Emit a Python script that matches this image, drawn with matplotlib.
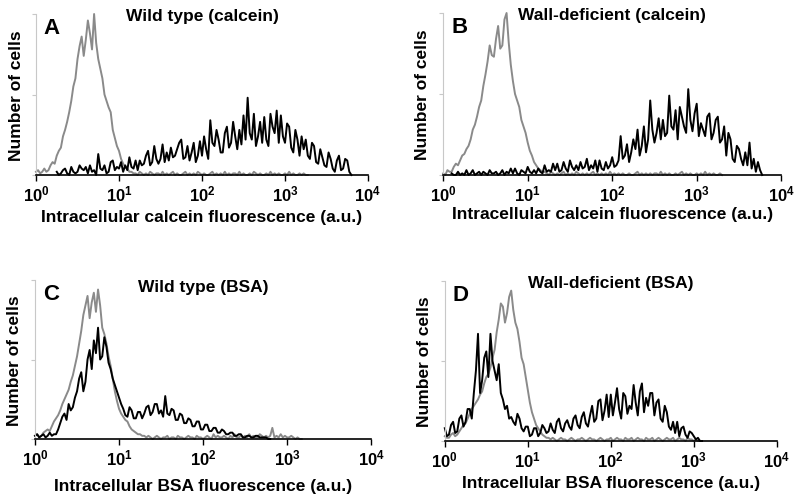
import numpy as np
import matplotlib
matplotlib.use('Agg')
import matplotlib.pyplot as plt
from matplotlib.ticker import NullLocator

plt.rcParams['font.family'] = 'Liberation Sans'
plt.rcParams['font.weight'] = 'bold'
plt.rcParams['mathtext.fontset'] = 'custom'
plt.rcParams['mathtext.rm'] = 'Liberation Sans:bold'
plt.rcParams['mathtext.bf'] = 'Liberation Sans:bold'

## Histogram data: counts per channel, one channel every 0.025 decade (log10 start given)
step = 0.025

# A: wild type, calcein
a_gray_start = 0.0
a_gray = [2, 3, 1, 2, 4, 2, 3, 6, 8, 7, 12, 15, 17, 24, 28, 33, 39, 46, 55, 60,
          72, 80, 86, 74, 84, 96, 88, 78, 100, 82, 72, 66, 60, 50, 46, 42, 39, 28, 23, 18,
          15, 10, 7, 5, 4, 2, 2, 1, 1,
          0, 2, 1, 0, 1, 0, 2, 1, 0, 1, 1, 0, 2, 0, 1, 0, 1, 2, 0, 1, 0, 0, 1, 2, 0, 1,
          0, 1, 0, 2, 1, 0, 1, 0, 0, 1, 2, 0, 1, 0, 1, 0, 2, 0, 1, 0, 1, 1, 0, 2, 0, 1,
          0, 0, 1, 0, 2, 1, 0, 1, 0, 0, 1, 0, 2, 0, 1, 0, 1, 0, 0, 1, 0, 2, 0, 1, 0, 0,
          1, 0, 1, 0, 0]
a_black_start = 0.25
a_black = [2, 0, 1, 3, 4, 1, 0, 5, 2, 1, 2, 6, 4, 3, 5, 1, 6, 2, 3, 0,
           13, 4, 3, 6, 1, 2, 8, 9, 3, 5, 4, 8, 2, 6, 3, 11, 5, 4, 9, 3,
           9, 6, 7, 12, 15, 6, 8, 18, 10, 7, 10, 19, 8, 14, 9, 17, 11, 12, 16, 20,
           22, 10, 11, 18, 9, 14, 20, 8, 12, 21, 12, 24, 16, 10, 34, 20, 18, 28, 22, 14,
           14, 26, 30, 17, 20, 33, 24, 16, 28, 19, 37, 22, 48, 26, 22, 38, 18, 24, 33, 20,
           36, 22, 18, 38, 30, 26, 40, 20, 37, 24, 20, 32, 30, 17, 14, 28, 22, 12, 24, 16,
           22, 12, 10, 20, 18, 8, 7, 16, 11, 6, 5, 14, 10, 4, 2, 9, 12, 3, 4, 10,
           9, 2, 0]

# B: wall-deficient, calcein
b_gray_start = 0.0
b_gray = [1, 0, 3, 2, 2, 5, 7, 6, 9, 12, 13, 16, 18, 22, 28, 31, 36, 42, 46, 55,
          62, 70, 80, 74, 73, 84, 92, 78, 80, 96, 100, 82, 68, 58, 50, 46, 42, 34, 30, 26,
          20, 15, 12, 8, 6, 4, 3, 2, 2,
          1, 0, 2, 1, 0, 1, 0, 1, 2, 0, 1, 0, 1, 0, 2, 1, 0, 1, 0, 1, 0, 1, 2, 0, 1,
          0, 1, 0, 1, 0, 2, 0, 1, 0, 1, 0, 1, 0, 0, 1, 0, 0, 1, 2, 0, 1, 0, 1, 0, 1,
          0, 1, 1, 0, 2, 0, 1, 0, 1, 0, 0, 1, 0, 1, 2, 0, 1, 0, 1, 0, 0, 1, 0, 1, 0,
          2, 0, 1, 0, 1, 0, 0, 1, 0]
b_black_start = 0.1
b_black = [1, 0, 0, 2, 0, 1, 0, 3, 0, 1, 3, 0, 1, 2, 0, 2, 1, 0, 3, 1,
           1, 2, 0, 1, 3, 0, 2, 1, 4, 1, 4, 1, 0, 3, 2, 1, 5, 2, 1, 3,
           1, 4, 2, 1, 6, 2, 3, 2, 7, 3, 7, 2, 3, 8, 4, 2, 9, 5, 3, 6,
           3, 8, 4, 5, 10, 3, 6, 4, 9, 2, 9, 4, 3, 8, 4, 6, 11, 5, 6, 9,
           24, 10, 12, 19, 8, 14, 22, 16, 28, 12, 18, 30, 14, 22, 46, 28, 20, 26, 35, 22,
           34, 24, 26, 49, 30, 28, 40, 22, 42, 36, 30, 26, 53, 34, 27, 38, 44, 24, 32, 28,
           24, 36, 38, 22, 26, 34, 36, 20, 22, 30, 12, 26, 22, 10, 8, 18, 16, 10, 6, 14,
           6, 20, 4, 10, 2, 8, 3, 0]

# C: wild type, BSA
c_gray_start = 0.0
c_gray = [2, 3, 1, 2, 4, 5, 6, 5, 8, 11, 13, 15, 18, 22, 25, 28, 31, 36, 40, 46,
          52, 60, 68, 78, 84, 90, 76, 86, 92, 80, 94, 84, 70, 66, 60, 52, 46, 38, 30, 24,
          19, 16, 14, 12, 11, 8, 6, 5, 4, 3, 3, 2, 2,
          1, 2, 1, 0, 1, 2, 1, 0, 1, 1, 2, 0, 1, 1, 0, 2, 1, 1, 0, 1, 2, 1, 1, 0, 2,
          1, 1, 0, 1, 2, 1, 0, 3, 1, 2, 1, 1, 2, 1, 0, 2, 1, 3, 1, 1, 2, 1, 2, 1, 3,
          1, 2, 1, 1, 3, 2, 1, 2, 1, 2, 7, 1, 2, 1, 3, 1, 2, 1, 1, 2, 1, 0, 1, 0, 0]
c_black_start = 0.0
c_black = [2, 3, 1, 2, 3, 1, 2, 4, 2, 3, 3, 6, 10, 14, 16, 12, 22, 18, 20, 26,
           30, 38, 42, 30, 36, 50, 56, 44, 62, 54, 70, 50, 52, 64, 58, 48, 44, 38, 34, 30,
           26, 22, 19, 15, 14, 20, 18, 13, 13, 17, 17, 13, 16, 20, 21, 15, 17, 22, 22, 16,
           18, 14, 27, 16, 15, 19, 18, 12, 12, 16, 15, 10, 10, 13, 12, 8, 8, 11, 11, 6,
           6, 9, 9, 5, 5, 7, 7, 4, 4, 6, 5, 3, 3, 4, 4, 2, 2, 3, 3, 1,
           1, 2, 2, 1, 1, 2, 2, 1, 1, 1, 1, 0, 0]

# D: wall-deficient, BSA
d_gray_start = 0.0
d_gray = [3, 2, 2, 4, 5, 3, 4, 6, 8, 10, 11, 14, 17, 20, 22, 24, 26, 29, 31, 36,
          40, 42, 46, 52, 57, 68, 76, 86, 84, 74, 80, 90, 94, 82, 74, 70, 62, 52, 48, 40,
          32, 24, 18, 14, 10, 8, 6, 4, 3, 2, 2,
          1, 2, 1, 0, 1, 2, 1, 1, 0, 1, 2, 1, 0, 1, 1, 2, 1, 0, 1, 2, 1, 1, 0, 1,
          2, 1, 0, 1, 1, 2, 0, 1, 2, 1, 1, 0, 2, 1, 1, 2, 0, 1, 2, 1, 1, 0, 2, 1,
          1, 2, 0, 1, 2, 1, 0, 1, 2, 1, 1, 2, 0, 1, 2, 1, 1, 0, 2, 1, 1, 0, 1, 0, 0]
d_black_start = 0.0
d_black = [8, 3, 4, 10, 12, 5, 6, 14, 16, 9, 12, 20, 20, 14, 30, 44, 67, 30, 38, 52,
           56, 40, 67, 50, 44, 38, 48, 30, 26, 20, 22, 14, 15, 12, 10, 17, 14, 8, 6, 9,
           9, 3, 4, 8, 8, 3, 5, 10, 8, 5, 6, 11, 7, 5, 12, 14, 8, 6, 11, 13,
           9, 7, 14, 16, 10, 8, 15, 18, 11, 9, 16, 22, 12, 14, 25, 26, 13, 19, 29, 15,
           29, 16, 24, 33, 20, 14, 30, 28, 17, 22, 20, 35, 24, 16, 31, 36, 18, 27, 22, 30,
           30, 16, 24, 26, 14, 12, 22, 18, 9, 7, 12, 5, 12, 3, 8, 9, 4, 2, 6, 5,
           3, 1, 2, 0, 0]

panels = [
    ('A', 'Wild type (calcein)', 'Intracellular calcein fluorescence (a.u.)',
     (a_gray_start, a_gray), (a_black_start, a_black)),
    ('B', 'Wall-deficient (calcein)', 'Intracellular calcein fluorescence (a.u.)',
     (b_gray_start, b_gray), (b_black_start, b_black)),
    ('C', 'Wild type (BSA)', 'Intracellular BSA fluorescence (a.u.)',
     (c_gray_start, c_gray), (c_black_start, c_black)),
    ('D', 'Wall-deficient (BSA)', 'Intracellular BSA fluorescence (a.u.)',
     (d_gray_start, d_gray), (d_black_start, d_black)),
]

# axes rectangles [left, bottom, width, height] in figure fraction
rects = [[0.045, 0.6494, 0.415, 0.3207],
         [0.554, 0.6494, 0.4225, 0.3227],
         [0.0438, 0.1235, 0.42, 0.3167],
         [0.556, 0.1195, 0.415, 0.3187]]
title_y = [0.988, 0.992, 0.962, 0.99]
xlab_y = [-0.255, -0.24, -0.29, -0.26]

ticks = [1, 10, 100, 1000, 10000]
ticklabels = [r'$\mathbf{10^{%d}}$' % i for i in range(5)]

fig = plt.figure(figsize=(8, 5.02), dpi=100)

for k, (letter, title, xlabel, gray, black) in enumerate(panels):
    ax = fig.add_axes(rects[k])
    for (start, vals), col in [(gray, '#8a8a8a'), (black, 'black')]:
        x = 10 ** (start + step * np.arange(len(vals)))
        ax.plot(x, vals, color=col, lw=1.4, clip_on=False)
    ax.set_xscale('log')
    ax.set_xlim(1, 10000)
    ax.set_ylim(0, 100)
    ax.set_xticks(ticks)
    ax.set_xticklabels(ticklabels, fontsize=12)
    ax.xaxis.set_minor_locator(NullLocator())
    ax.set_yticks([0, 50, 100])
    ax.set_yticklabels([])
    ax.tick_params(axis='x', direction='out', length=4, width=1, pad=2)
    ax.tick_params(axis='y', direction='out', length=3, width=0.8, color='#c8c8c8')
    ax.spines['top'].set_visible(False)
    ax.spines['right'].set_visible(False)
    ax.spines['left'].set_color('#c8c8c8')
    ax.spines['bottom'].set_linewidth(1.2)
    ax.set_xlabel(xlabel, fontsize=12.5, fontweight='bold')
    ax.xaxis.set_label_coords(0.5, xlab_y[k])
    ax.xaxis.label.set_va('center')
    ax.set_ylabel('Number of cells', fontsize=12.5, fontweight='bold')
    ax.yaxis.set_label_coords(-0.06, 0.5)
    ax.yaxis.label.set_va('center')
    ax.text(0.5, title_y[k], title, transform=ax.transAxes, ha='center',
            va='center', fontsize=12.5, fontweight='bold')
    ax.text(0.048, 0.915, letter, transform=ax.transAxes, ha='center',
            va='center', fontsize=16, fontweight='bold')

fig.savefig('out.png', dpi=100)
